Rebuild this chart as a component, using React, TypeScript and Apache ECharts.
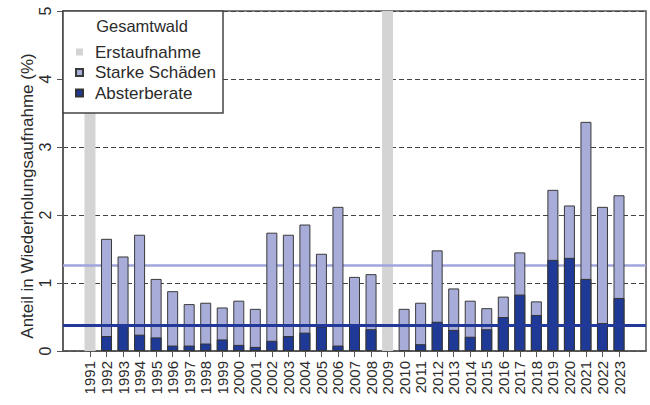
import React, { useEffect, useRef } from "react";
import * as echarts from "echarts";

const years = [
  1991, 1992, 1993, 1994, 1995, 1996, 1997, 1998, 1999, 2000, 2001, 2002, 2003, 2004, 2005, 2006, 2007,
  2008, 2009, 2010, 2011, 2012, 2013, 2014, 2015, 2016, 2017, 2018, 2019, 2020, 2021, 2022, 2023,
];
const erstaufnahmeYears = [1991, 2009];
const erstaufnahmeValue = 5;
const starkeSchaeden: (number | null)[] = [
  null, 1.65, 1.39, 1.71, 1.06, 0.88, 0.69, 0.71, 0.64, 0.74, 0.62, 1.74, 1.71, 1.86, 1.43, 2.12, 1.09,
  1.13, null, 0.62, 0.71, 1.48, 0.92, 0.74, 0.63, 0.8, 1.45, 0.73, 2.37, 2.14, 3.37, 2.12, 2.29,
];
const absterberate: (number | null)[] = [
  null, 0.22, 0.38, 0.24, 0.2, 0.08, 0.08, 0.11, 0.17, 0.09, 0.06, 0.15, 0.22, 0.27, 0.36, 0.08, 0.37,
  0.32, null, null, 0.1, 0.43, 0.31, 0.21, 0.32, 0.5, 0.83, 0.53, 1.34, 1.37, 1.06, 0.41, 0.78,
];
const meanStarkeSchaeden = 1.26;
const meanAbsterberate = 0.38;
const yTicks = [0, 1, 2, 3, 4, 5];

const FONT = "'Liberation Sans', Arial, sans-serif";
const TEXT = "#2b2b2b";

export default function App() {
  const ref = useRef<HTMLDivElement>(null);
  useEffect(() => {
    document.body.style.margin = "0";
    const chart = echarts.init(ref.current!, null, { renderer: "svg" });
    const pairs = (vals: (number | null)[]) =>
      years.map((y, i) => (vals[i] == null ? null : [y, vals[i]])).filter((d) => d !== null);
    chart.setOption({
      animation: false,
      textStyle: { fontFamily: FONT },
      grid: {
        left: 63,
        right: 4,
        top: 11,
        bottom: 54,
        show: true,
        borderColor: "#555",
        borderWidth: 1.5,
      },
      xAxis: {
        type: "value",
        min: 1989.367,
        max: 2024.633,
        axisLine: { show: true, lineStyle: { color: "#555", width: 1.5 } },
        axisTick: { show: true, customValues: years, length: 6, lineStyle: { color: "#555" } },
        axisLabel: {
          customValues: years,
          rotate: 90,
          fontSize: 15,
          margin: 10,
          color: TEXT,
          fontFamily: FONT,
          formatter: (v: number) => String(Math.round(v)),
        },
        splitLine: { show: false },
      },
      yAxis: {
        type: "value",
        min: yTicks[0],
        max: yTicks[yTicks.length - 1],
        interval: 1,
        axisLine: { show: true, lineStyle: { color: "#555", width: 1.5 } },
        axisTick: { show: true, length: 6, lineStyle: { color: "#555" } },
        axisLabel: { rotate: 90, fontSize: 16, margin: 10, color: TEXT, fontFamily: FONT },
        splitLine: { show: true, lineStyle: { type: [5, 3], color: "#444", width: 1 } },
      },
      legend: {
        data: ["Erstaufnahme", "Starke Schäden", "Absterberate"],
        orient: "vertical",
        left: 70,
        top: 38.5,
        itemWidth: 7,
        itemHeight: 7,
        itemGap: 3.5,
        icon: "rect",
        z: 20,
        textStyle: { fontSize: 17, color: TEXT, fontFamily: FONT, lineHeight: 17, padding: [0, 0, 0, 7] },
      },
      graphic: [
        {
          type: "rect",
          z: 9,
          shape: { x: 63, y: 11, width: 160, height: 102 },
          style: { fill: "#fff", stroke: "#444", lineWidth: 1.5 },
        },
        {
          type: "text",
          z: 21,
          x: 142,
          y: 26,
          style: {
            text: "Gesamtwald",
            fontSize: 16.5,
            fontFamily: FONT,
            fill: TEXT,
            textAlign: "center",
            textVerticalAlign: "middle",
          },
        },
        {
          type: "text",
          z: 21,
          x: 27,
          y: 196,
          rotation: Math.PI / 2,
          style: {
            text: "Anteil in Wiederholungsaufnahme (%)",
            fontSize: 17,
            fontFamily: FONT,
            fill: TEXT,
            textAlign: "center",
            textVerticalAlign: "middle",
          },
        },
      ],
      series: [
        {
          name: "Erstaufnahme",
          type: "bar",
          barWidth: 11,
          barGap: "-100%",
          z: 1,
          itemStyle: { color: "#d4d4d4" },
          data: erstaufnahmeYears.map((y) => [y, erstaufnahmeValue]),
        },
        {
          name: "Starke Schäden",
          type: "bar",
          barWidth: 11,
          barGap: "-100%",
          z: 3,
          itemStyle: { color: "#a8acd9", borderColor: "#3a3a3a", borderWidth: 1 },
          data: pairs(starkeSchaeden),
          markLine: {
            silent: true,
            symbol: "none",
            z: 2,
            label: { show: false },
            lineStyle: { color: "#a0a5da", width: 2.5, type: "solid" },
            data: [{ yAxis: meanStarkeSchaeden }],
          },
        },
        {
          name: "Absterberate",
          type: "bar",
          barWidth: 11,
          barGap: "-100%",
          z: 4,
          itemStyle: { color: "#1f3a96", borderColor: "#333", borderWidth: 1 },
          data: pairs(absterberate),
          markLine: {
            silent: true,
            symbol: "none",
            z: 10,
            label: { show: false },
            lineStyle: { color: "#23399a", width: 3, type: "solid" },
            data: [{ yAxis: meanAbsterberate }],
          },
        },
      ],
    });
    return () => chart.dispose();
  }, []);
  return <div ref={ref} style={{ width: 650, height: 405 }} />;
}
